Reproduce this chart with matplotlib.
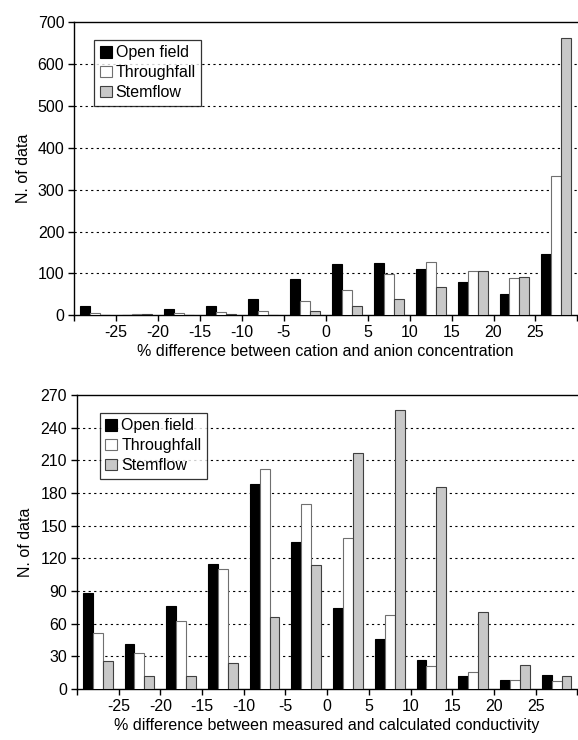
import numpy as np
import matplotlib
matplotlib.use('Agg')
import matplotlib.pyplot as plt

plt.rcParams['font.family'] = ['Liberation Sans', 'DejaVu Sans']
plt.rcParams['font.size'] = 11.5

tick_labels = ['', '-25', '-20', '-15', '-10', '-5', '0', '5', '10', '15', '20', '25', '']
series = ['Open field', 'Throughfall', 'Stemflow']

# cation vs anion concentration
ion_open = [21, 1, 16, 21, 39, 86, 123, 124, 110, 79, 51, 147]
ion_through = [5, 3, 6, 7, 9, 35, 61, 99, 127, 106, 90, 333]
ion_stem = [1, 4, 1, 2, 1, 9, 23, 39, 67, 106, 92, 663]

# measured vs calculated conductivity
cond_open = [88, 41, 76, 115, 188, 135, 74, 46, 27, 12, 8, 13]
cond_through = [51, 33, 62, 110, 202, 170, 139, 68, 21, 16, 8, 7]
cond_stem = [26, 12, 12, 24, 66, 114, 217, 256, 186, 71, 22, 12]

fills = ['black', 'white', '#c8c8c8']
edges = ['black', '#707070', '#404040']


def draw_panel(ax, data, ymax, ystep, xlabel, leg_anchor):
    x = np.arange(len(data[0]))
    w = 0.238
    for i, vals in enumerate(data):
        ax.bar(x + (i - 1) * w, vals, w, color=fills[i], edgecolor=edges[i],
               linewidth=0.8, label=series[i], zorder=3)
    ax.set_xlim(-0.5, len(x) - 0.5)
    ax.set_ylim(0, ymax)
    ax.set_yticks(np.arange(0, ymax + 1, ystep))
    ax.set_xticks(np.arange(-0.5, len(x), 1.0))
    ax.set_xticklabels(tick_labels)
    for yv in np.arange(ystep, ymax, ystep):
        ax.axhline(yv, color='black', linestyle=(0, (2, 3)), linewidth=0.8, zorder=1)
    ax.spines['right'].set_visible(False)
    for s in ['left', 'bottom', 'top']:
        ax.spines[s].set_linewidth(1.0)
    ax.tick_params(direction='out', length=4, width=1, colors='black', pad=3)
    ax.set_ylabel('N. of data', labelpad=5)
    ax.set_xlabel(xlabel, labelpad=3)
    leg = ax.legend(loc='upper left', bbox_to_anchor=leg_anchor, frameon=True,
                    fancybox=False, edgecolor='black', handlelength=0.75,
                    handleheight=0.75, handletextpad=0.25, borderpad=0.35,
                    labelspacing=0.3, borderaxespad=0)
    leg.get_frame().set_linewidth(0.9)
    leg.set_zorder(5)


fig = plt.figure(figsize=(5.78, 7.4), dpi=100)
ax1 = fig.add_axes([0.128, 0.574, 0.871, 0.396])
ax2 = fig.add_axes([0.133, 0.069, 0.866, 0.397])

draw_panel(ax1, [ion_open, ion_through, ion_stem], 700, 100,
           '% difference between cation and anion concentration', (0.04, 0.94))
draw_panel(ax2, [cond_open, cond_through, cond_stem], 270, 30,
           '% difference between measured and calculated conductivity', (0.046, 0.94))

fig.savefig('out.png', dpi=100)
